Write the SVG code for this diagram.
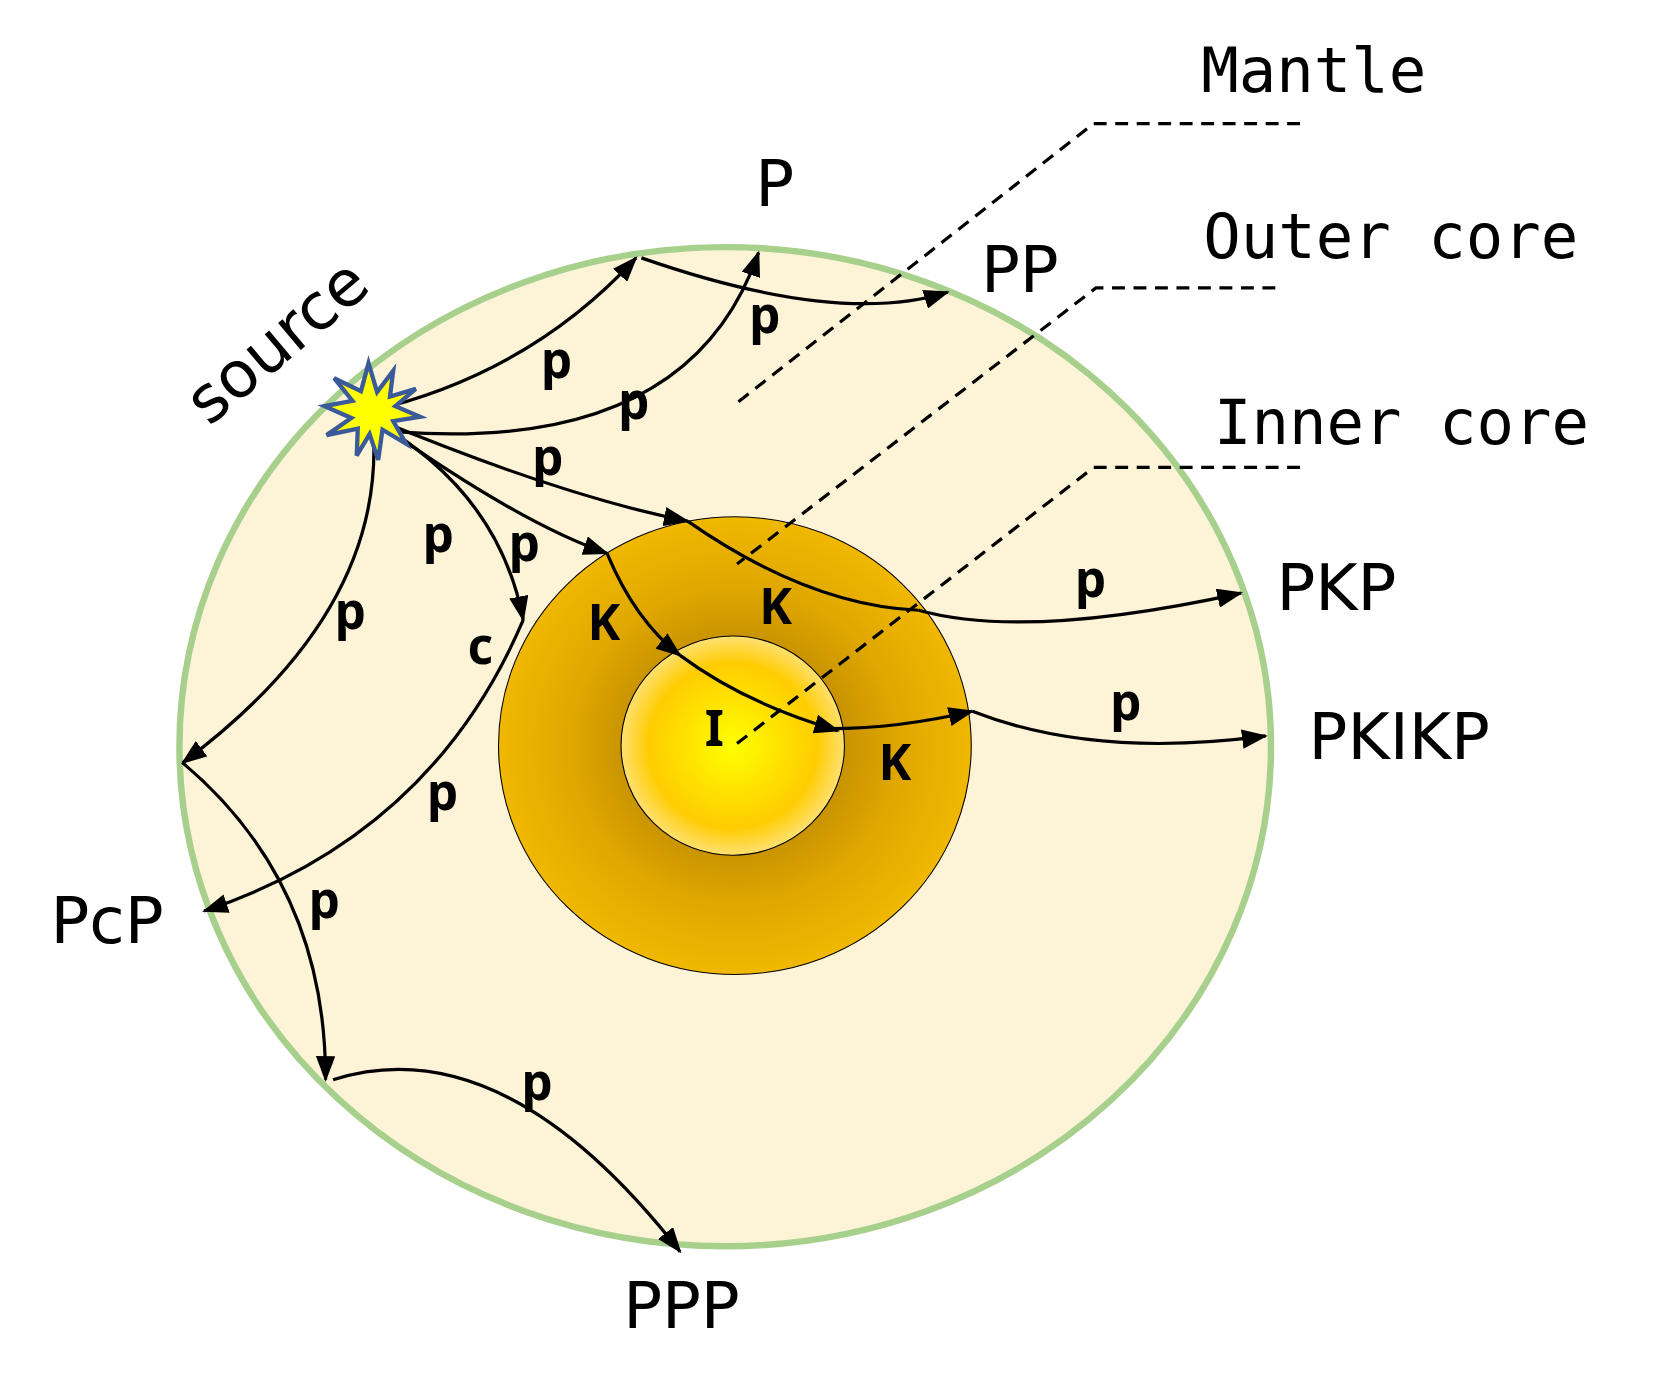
<svg xmlns="http://www.w3.org/2000/svg" width="1676" height="1395" viewBox="0 0 1676 1395">
<style>
.ray{fill:none;stroke:#000;stroke-width:3;}
.arr{marker-end:url(#ah);}
.dash{fill:none;stroke:#000;stroke-width:3;stroke-dasharray:12 8;}
.lab{font-family:"DejaVu Sans","Noto Sans",sans-serif;font-size:60px;fill:#000;}
.mono{font-family:"DejaVu Sans Mono","Liberation Mono",monospace;font-size:58px;fill:#000;}
.sm{font-family:"Noto Sans","DejaVu Sans",sans-serif;font-size:46px;font-weight:bold;fill:#000;text-anchor:middle;}
</style>
<defs>
<marker id="ah" markerWidth="24" markerHeight="18" refX="22" refY="9" orient="auto" markerUnits="userSpaceOnUse">
<path d="M0,0 L24,9 L0,18 Z" fill="#000"/>
</marker>
<radialGradient id="oc" cx="0.5" cy="0.5" r="0.5">
<stop offset="0.3" stop-color="#b88400"/>
<stop offset="0.7" stop-color="#e0a800"/>
<stop offset="1" stop-color="#f0b800"/>
</radialGradient>
<radialGradient id="ic" cx="0.5" cy="0.5" r="0.5">
<stop offset="0" stop-color="#ffff00"/>
<stop offset="0.75" stop-color="#ffcc00"/>
<stop offset="1" stop-color="#ffe070"/>
</radialGradient>
</defs>
<g transform="scale(1.0744)">
<g id="mantle"><ellipse cx="675" cy="695" rx="508" ry="465" fill="#fdf3d7" stroke="#a8d08d" stroke-width="6"/></g>
<g id="outer-core"><ellipse cx="684" cy="694" rx="220" ry="213" fill="url(#oc)" stroke="#000" stroke-width="1"/></g>
<g id="inner-core"><ellipse cx="682" cy="694" rx="104" ry="102" fill="url(#ic)" stroke="#000" stroke-width="1"/></g>
<g id="leaders">
<polyline class="dash" points="1210,115 1018,115 686,375"/>
<polyline class="dash" points="1187,268 1020,268 686,525"/>
<polyline class="dash" points="1210,435 1018,435 686,692"/>
</g>
<g id="connectors">
<path class="ray arr" d="M343,383 Q492.5,348.5 592,240"/>
<path class="ray arr" d="M597,240 Q780.5,304 882,272"/>
<path class="ray arr" d="M370,402 Q642,422 706,235"/>
<path class="ray arr" d="M350,390 Q525,462.5 640,485"/>
<path class="ray" d="M640,485 Q752.5,563.5 855,568"/>
<path class="ray arr" d="M855,568 Q955,596 1155,552"/>
<path class="ray arr" d="M350,392 Q482.5,486.5 565,515"/>
<path class="ray arr" d="M565,515 Q591,577.5 633,610"/>
<path class="ray arr" d="M633,610 Q693.5,655 780,680"/>
<path class="ray arr" d="M760,678 Q827.5,680 905,662"/>
<path class="ray arr" d="M905,662 Q1018.5,706.5 1178,685"/>
<path class="ray arr" d="M345,390 Q464,456.5 487,577"/>
<path class="ray arr" d="M487,577 Q401.5,777.5 190,848"/>
<path class="ray arr" d="M347,395 Q361.5,567.5 170,710"/>
<path class="ray arr" d="M170,710 Q303.5,822.5 303,1005"/>
<path class="ray arr" d="M310,1005 Q468.5,955 633,1165"/>
</g>
<g id="source-star"><polygon fill="#ffff00" stroke="#3b5a9a" stroke-width="4" points="343,338 351,365 366,345 363,369 387,362 368,378 391,388 366,392 378,413 356,400 352,428 344,404 332,424 333,399 304,405 327,389 302,378 328,373 311,352 336,364"/></g>
<g id="texts">
<text class="mono" x="1118" y="86">Mantle</text>
<text class="mono" x="1120" y="240">Outer core</text>
<text class="mono" x="1130" y="413">Inner core</text>
<text class="lab" x="703" y="192">P</text>
<text class="lab" x="913" y="272">PP</text>
<text class="lab" x="1188" y="568">PKP</text>
<text class="lab" x="1218" y="706">PKIKP</text>
<text class="lab" x="47" y="878">PcP</text>
<text class="lab" x="580" y="1236">PPP</text>
<text class="lab" transform="translate(258,318) rotate(-40)" text-anchor="middle" y="20">source</text>
<text class="sm" x="518" y="352">p</text>
<text class="sm" x="590" y="390">p</text>
<text class="sm" x="712" y="310">p</text>
<text class="sm" x="510" y="442">p</text>
<text class="sm" x="408" y="514">p</text>
<text class="sm" x="488" y="522">p</text>
<text class="sm" x="326" y="585">p</text>
<text class="sm" x="447" y="618">c</text>
<text class="sm" x="562" y="596">K</text>
<text class="sm" x="722" y="581">K</text>
<text class="sm" x="665" y="694">I</text>
<text class="sm" x="833" y="726">K</text>
<text class="sm" x="1015" y="556">p</text>
<text class="sm" x="1048" y="670">p</text>
<text class="sm" x="412" y="754">p</text>
<text class="sm" x="302" y="854">p</text>
<text class="sm" x="500" y="1024">p</text>
</g>
</g>
</svg>
